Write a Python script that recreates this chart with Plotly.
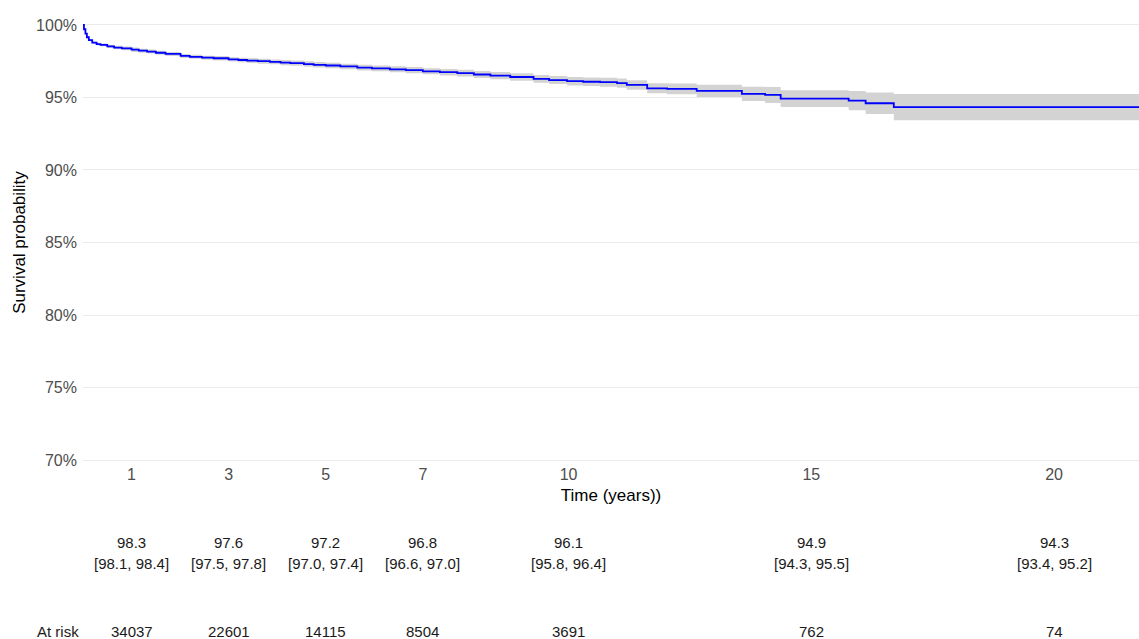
import plotly.graph_objects as go

# Kaplan-Meier estimate (percent) with 95% confidence limits
time_years = [0.00, 0.02, 0.05, 0.08, 0.12, 0.19, 0.28, 0.36, 0.50, 0.64, 0.80,
              1.00, 1.15, 1.32, 1.50, 1.70, 2.01, 2.20, 2.45, 2.69, 3.00, 3.20,
              3.38, 3.60, 3.85, 4.07, 4.27, 4.55, 4.75, 5.00, 5.30, 5.65, 5.95,
              6.32, 6.65, 7.00, 7.35, 7.71, 8.05, 8.39, 8.80, 9.28, 9.60, 9.97,
              10.30, 10.65, 11.00, 11.20, 11.62, 12.03, 12.64, 13.57, 14.05,
              14.37, 15.77, 16.12, 16.70, 21.75]
survival = [100.0, 99.70, 99.40, 99.15, 98.95, 98.78, 98.68, 98.62, 98.52, 98.44, 98.38,
            98.30, 98.22, 98.16, 98.08, 98.00, 97.86, 97.80, 97.74, 97.70, 97.62, 97.58,
            97.54, 97.50, 97.45, 97.40, 97.36, 97.30, 97.25, 97.20, 97.14, 97.06, 97.00,
            96.94, 96.88, 96.80, 96.74, 96.67, 96.58, 96.50, 96.41, 96.28, 96.20, 96.12,
            96.08, 96.05, 95.98, 95.86, 95.63, 95.59, 95.45, 95.25, 95.17,
            94.92, 94.78, 94.60, 94.33, 94.33]
lower_ci = [100.0, 99.66, 99.35, 99.09, 98.88, 98.70, 98.59, 98.52, 98.41, 98.32, 98.25,
            98.14, 98.08, 98.02, 97.94, 97.86, 97.72, 97.66, 97.60, 97.55, 97.47, 97.42,
            97.38, 97.33, 97.28, 97.22, 97.18, 97.11, 97.06, 97.01, 96.95, 96.86, 96.80,
            96.73, 96.67, 96.59, 96.52, 96.44, 96.34, 96.25, 96.15, 96.01, 95.92, 95.83,
            95.78, 95.74, 95.66, 95.53, 95.28, 95.22, 95.03, 94.76, 94.62,
            94.34, 94.12, 93.86, 93.42, 93.42]
upper_ci = [100.0, 99.74, 99.45, 99.21, 99.02, 98.86, 98.77, 98.72, 98.63, 98.56, 98.51,
            98.44, 98.36, 98.30, 98.22, 98.14, 98.00, 97.94, 97.88, 97.85, 97.77, 97.74,
            97.70, 97.67, 97.62, 97.58, 97.54, 97.49, 97.44, 97.39, 97.33, 97.26, 97.20,
            97.15, 97.09, 97.01, 96.96, 96.90, 96.82, 96.75, 96.67, 96.55, 96.48, 96.41,
            96.38, 96.36, 96.30, 96.19, 95.98, 95.96, 95.87, 95.74, 95.72,
            95.50, 95.44, 95.34, 95.24, 95.24]

# Summary table below the plot
table_times = [1, 3, 5, 7, 10, 15, 20]
table_est = [98.3, 97.6, 97.2, 96.8, 96.1, 94.9, 94.3]
table_lo = [98.1, 97.5, 97.0, 96.6, 95.8, 94.3, 93.4]
table_hi = [98.4, 97.8, 97.4, 97.0, 96.4, 95.5, 95.2]
at_risk = [34037, 22601, 14115, 8504, 3691, 762, 74]

y_ticks = [70, 75, 80, 85, 90, 95, 100]

FONT = "Liberation Sans, Arial, sans-serif"
BAND = "#d3d3d3"

fig = go.Figure()

# confidence band
fig.add_trace(go.Scatter(
    x=time_years, y=lower_ci, mode="lines", line=dict(width=0, shape="hv", color=BAND),
    hoverinfo="skip", showlegend=False))
fig.add_trace(go.Scatter(
    x=time_years, y=upper_ci, mode="lines", line=dict(width=0, shape="hv", color=BAND),
    fill="tonexty", fillcolor=BAND, hoverinfo="skip", showlegend=False))

# survival curve
fig.add_trace(go.Scatter(
    x=time_years, y=survival, mode="lines",
    line=dict(color="#0000ff", width=1.8, shape="hv"), showlegend=False))

# table rows: estimate, CI, number at risk
row_est_y = -0.181
row_ci_y = -0.229
row_risk_y = -0.382
table_font = dict(family=FONT, size=15, color="#1a1a1a")
for t, e, lo, hi, n in zip(table_times, table_est, table_lo, table_hi, at_risk):
    fig.add_annotation(x=t, y=row_est_y, xref="x", yref="paper", text=f"{e:.1f}",
                       showarrow=False, font=table_font, xanchor="center", yanchor="middle")
    fig.add_annotation(x=t, y=row_ci_y, xref="x", yref="paper", text=f"[{lo:.1f}, {hi:.1f}]",
                       showarrow=False, font=table_font, xanchor="center", yanchor="middle")
    fig.add_annotation(x=t, y=row_risk_y, xref="x", yref="paper", text=f"{n}",
                       showarrow=False, font=table_font, xanchor="center", yanchor="middle")
fig.add_annotation(x=-0.0237, y=row_risk_y, xref="paper", yref="paper", text="At risk",
                   showarrow=False, font=table_font, xanchor="center", yanchor="middle")

fig.update_layout(
    width=1139, height=639,
    margin=dict(l=83, r=0, t=22, b=176),
    paper_bgcolor="white", plot_bgcolor="white",
    font=dict(family=FONT, color="#4d4d4d"),
    xaxis=dict(
        range=[0, 21.75], tickvals=table_times, ticktext=[str(t) for t in table_times],
        showgrid=False, zeroline=False, showline=False,
        tickfont=dict(size=16, color="#4d4d4d"),
        title=dict(text="Time (years))", font=dict(size=17, color="black"), standoff=7),
    ),
    yaxis=dict(
        range=[69.8, 100.2], tickvals=y_ticks, ticktext=[f"{v}%" for v in y_ticks],
        showgrid=True, gridcolor="#ebebeb", gridwidth=1, zeroline=False, showline=False,
        tickfont=dict(size=16, color="#4d4d4d"), ticklabelstandoff=5,
        title=dict(text="Survival probability", font=dict(size=17, color="black"), standoff=6),
    ),
)

fig.write_html("out.html")
